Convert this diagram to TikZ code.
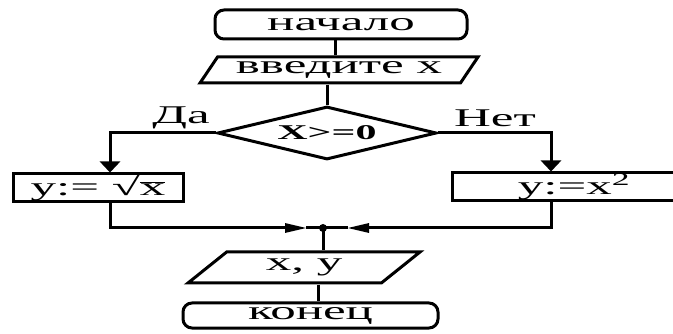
\documentclass[tikz,border=0pt]{standalone}
\usepackage{fontspec}
\setmainfont[FakeStretch=2]{Liberation Serif}
\usetikzlibrary{arrows.meta}
\usetikzlibrary{shapes.geometric}

\begin{document}
\begin{tikzpicture}[
            x=1pt, y=-1pt, line width=3pt,
            every node/.style={font=\fontsize{25.5}{28}\selectfont, inner sep=0pt},
            terminal/.style={rectangle, draw, rounded corners=9pt},
            io/.style={trapezium, draw, trapezium stretches body},
            decision/.style={diamond, draw, aspect=4, font=\fontsize{21}{24}\selectfont\bfseries},
            process/.style={rectangle, draw}
        ]
        \tikzset{>={Triangle[length=11pt,width=20pt]}}
        \tikzset{side arrow/.style={-{Triangle[length=22pt,width=9pt]}}}
        \useasboundingbox (0,0) rectangle (673,334);
        \node[terminal, minimum width=252pt, minimum height=29pt] (start node) at (341,24.5) {начало};
        \node[io, trapezium left angle=44, trapezium right angle=136, minimum width=278pt, minimum height=26pt] (input node) at (339,70) {введите х};
        \node[decision, minimum width=219pt, minimum height=53pt] (check node) at (327,133) {X>=0};
        \node[anchor=base] (yes label) at (181,124) {Да};
        \node[anchor=base] (no label) at (495,127) {Нет};
        \node[process, minimum width=170pt, minimum height=28pt] (root node) at (98,188) {y:= √$\overline{\hbox{x}}$};
        \node[process, minimum width=244pt, minimum height=28pt] (square node) at (574,187) {y:=x\textsuperscript{2}};
        \node[io, trapezium left angle=24, trapezium right angle=156, minimum width=232pt, minimum height=31pt] (output node) at (304,267.5) {x, y};
        \node[terminal, minimum width=255pt, minimum height=25pt] (end node) at (310.5,315.5) {конец};
        \coordinate (merge) at (323,228);

        \draw ([xshift=-6pt]start node.south) -- ([xshift=-6pt]start node.south |- input node.north);
        \draw (check node.north |- input node.south) -- (check node.north);
        \draw[->] (check node.west) -| ([xshift=12pt]root node.north);
        \draw[->] (check node.east) -| ([xshift=-23pt]square node.north);
        % both branches meet
        \draw[side arrow] ([xshift=12pt]root node.south) |- ([xshift=-16pt]merge);
        \draw ([xshift=-17pt]merge) -- (merge);
        \draw[side arrow] ([xshift=-23pt]square node.south) |- ([xshift=24pt]merge);
        \draw ([xshift=25pt]merge) -- (merge);
        \fill (merge) circle (4pt);
        \draw (merge) -- (merge |- output node.north);
        \draw ([xshift=7.5pt]end node.north |- output node.south) -- ([xshift=7.5pt]end node.north);
    \end{tikzpicture}
\end{document}
